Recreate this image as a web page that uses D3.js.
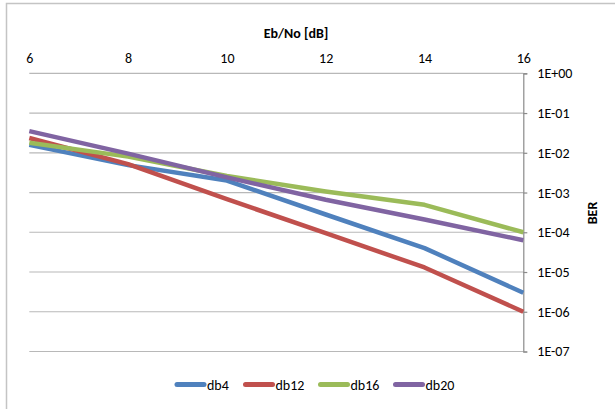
<!DOCTYPE html>
<html>
<head>
<meta charset="utf-8">
<script src="https://cdn.jsdelivr.net/npm/d3@7"></script>
<style>
  html, body { margin: 0; padding: 0; background: #fff; }
  svg { display: block; font-family: Carlito, Calibri, "Noto Sans", sans-serif; }
</style>
</head>
<body>
<svg id="chart" width="615" height="409"></svg>
<script>
// ---- data ----
const ebno = [6, 8, 10, 12, 14, 16];
const db4  = [0.0158, 0.0049, 0.0020, 2.8e-4, 4.0e-5, 3.0e-6];
const db12 = [0.0236, 0.0052, 6.8e-4, 9.5e-5, 1.3e-5, 1.0e-6];
const db16 = [0.0178, 0.0080, 0.0026, 1.06e-3, 4.9e-4, 1.0e-4];
const db20 = [0.0350, 0.0095, 0.0024, 6.6e-4, 2.1e-4, 6.3e-5];
const seriesNames = ["db4", "db12", "db16", "db20"];
const xTicks = [6, 8, 10, 12, 14, 16];
const yTicks = [1, 1e-1, 1e-2, 1e-3, 1e-4, 1e-5, 1e-6, 1e-7];
const yTickLabels = ["1E+00", "1E-01", "1E-02", "1E-03", "1E-04", "1E-05", "1E-06", "1E-07"];
const colors = ["#4F81BD", "#C0504D", "#9BBB59", "#8064A2"];

(function () {
const seriesValues = [db4, db12, db16, db20];
const series = seriesNames.map((name, i) => ({
  name, color: colors[i],
  points: ebno.map((x, j) => ({ x, y: seriesValues[i][j] }))
}));

const FONT = "Carlito, Calibri, 'Noto Sans', sans-serif";
const FS = "14px";
const svg = d3.select("#chart");
const pLeft = 29.3, pRight = 523.3, pTop = 73.3, pBottom = 351.5;

const x = d3.scaleLinear().domain([6, 16]).range([pLeft, pRight]);
const y = d3.scaleLog().domain([1e-7, 1]).range([pBottom, pTop]);

// outer chart frame
svg.append("rect")
  .attr("x", 6.5).attr("y", 3.5).attr("width", 640).attr("height", 440)
  .attr("fill", "none").attr("stroke", "#c4c4c4").attr("stroke-width", 1.5);

// gridlines
svg.append("g").selectAll("line").data(yTicks).join("line")
  .attr("x1", pLeft).attr("x2", pRight)
  .attr("y1", d => y(d)).attr("y2", d => y(d))
  .attr("stroke", "#b8b8b8").attr("stroke-width", 1.2);

// right axis
const yAxis = d3.axisRight(y).tickValues(yTicks)
  .tickFormat((d, i) => yTickLabels[i]).tickSize(4).tickPadding(10);
const gy = svg.append("g").attr("transform", `translate(${pRight},0)`).call(yAxis);
gy.select(".domain").attr("stroke", "#8a8a8a").attr("stroke-width", 1.2);
gy.selectAll(".tick line").attr("stroke", "#8a8a8a").attr("stroke-width", 1.2);
gy.selectAll(".tick text").attr("fill", "#000").attr("font-size", FS).attr("font-family", FONT);

// top x tick labels
const xAxis = d3.axisTop(x).tickValues(xTicks).tickFormat(d3.format("d")).tickSize(0).tickPadding(0);
const gx = svg.append("g").attr("transform", `translate(0,62.5)`).call(xAxis);
gx.select(".domain").remove();
gx.selectAll(".tick text").attr("fill", "#000").attr("font-size", FS).attr("font-family", FONT);

// axis titles
svg.append("text").attr("x", 296).attr("y", 38)
  .attr("text-anchor", "middle").attr("font-weight", "bold").attr("font-size", FS)
  .text("Eb/No [dB]");
svg.append("text").attr("transform", "translate(597,213) rotate(-90)")
  .attr("text-anchor", "middle").attr("font-weight", "bold").attr("font-size", FS)
  .text("BER");

// lines
const line = d3.line().x(d => x(d.x)).y(d => y(d.y));
svg.append("g").selectAll("path").data(series).join("path")
  .attr("d", d => line(d.points))
  .attr("fill", "none").attr("stroke", d => d.color)
  .attr("stroke-width", 4.5).attr("stroke-linejoin", "round").attr("stroke-linecap", "butt");

// legend
const legendX = [175, 243.5, 318.5, 393.5];
const lg = svg.append("g").selectAll("g").data(series).join("g")
  .attr("transform", (d, i) => `translate(${legendX[i]},384.5)`);
lg.append("line").attr("x1", 2).attr("x2", 29)
  .attr("stroke", d => d.color).attr("stroke-width", 5).attr("stroke-linecap", "round");
lg.append("text").attr("x", 32).attr("y", 5).attr("font-size", FS).attr("fill", "#000")
  .text(d => d.name);
})();
</script>
</body>
</html>
